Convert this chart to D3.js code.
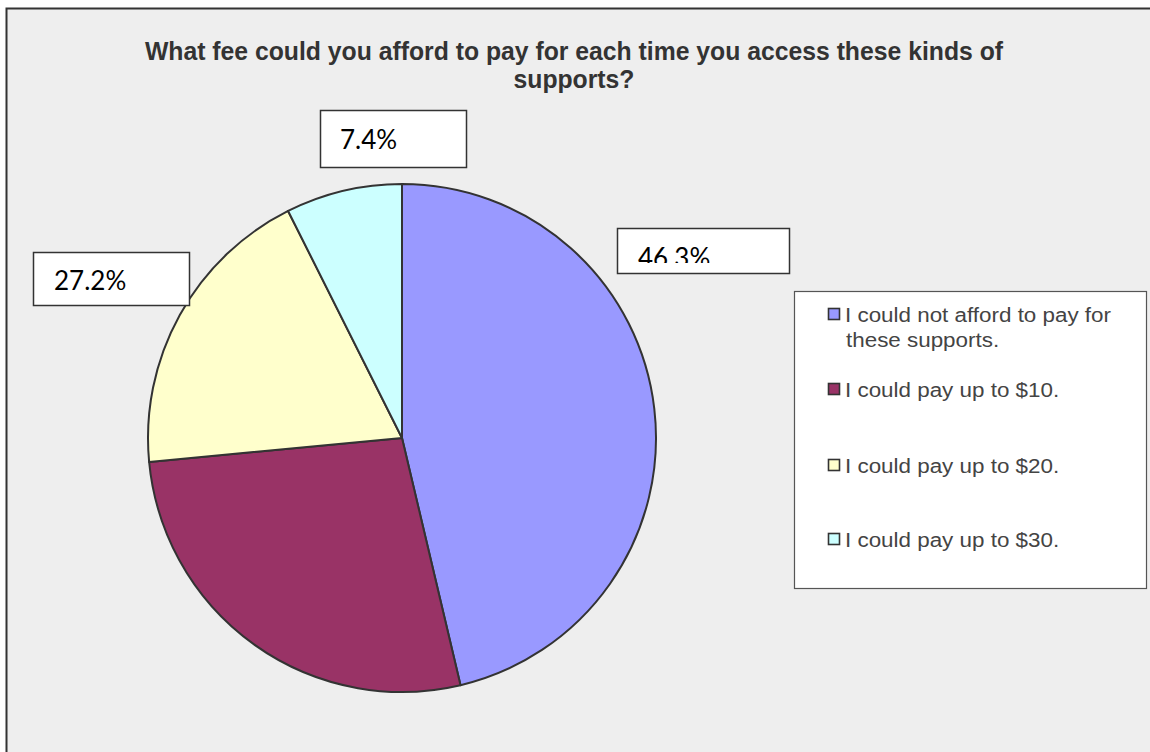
<!DOCTYPE html>
<html><head><meta charset="utf-8">
<script src="https://cdn.jsdelivr.net/npm/d3@7"></script>
<style>html,body{margin:0;padding:0;background:#fff;overflow:hidden}</style>
</head><body>
<script>
const categories = ["I could not afford to pay for these supports.", "I could pay up to $10.", "I could pay up to $20.", "I could pay up to $30."];
const values = [46.3, 27.2, 19.1, 7.4];
const colors = ["#9999FF", "#993366", "#FFFFCC", "#CCFFFF"];
const legendLines = [["I could not afford to pay for", "these supports."], ["I could pay up to $10."], ["I could pay up to $20."], ["I could pay up to $30."]];
const titleLines = ["What fee could you afford to pay for each time you access these kinds of", "supports?"];
const shownLabels = [0, 1, 3];

const W = 1150, H = 752;
const svg = d3.select("body").append("svg").attr("width", W).attr("height", H);

// frame
svg.append("rect").attr("x", 6.5).attr("y", 8.5).attr("width", W + 10).attr("height", H + 10)
  .attr("fill", "#EEEEEE").attr("stroke", "#333").attr("stroke-width", 2);

// title
const t1 = svg.append("text").attr("x", 574).attr("y", 60).attr("text-anchor", "middle")
  .attr("font-family", "Liberation Sans, Arial, sans-serif").attr("font-weight", "bold")
  .attr("font-size", 25).attr("fill", "#333").text(titleLines[0]);
const nat1 = t1.node().getComputedTextLength();
const ratio = 858 / nat1;
t1.attr("textLength", 858).attr("lengthAdjust", "spacingAndGlyphs");
const t2 = svg.append("text").attr("x", 574).attr("y", 88).attr("text-anchor", "middle")
  .attr("font-family", "Liberation Sans, Arial, sans-serif").attr("font-weight", "bold")
  .attr("font-size", 25).attr("fill", "#333").text(titleLines[1]);
const nat2 = t2.node().getComputedTextLength();
t2.attr("textLength", nat2 * ratio).attr("lengthAdjust", "spacingAndGlyphs");

// pie
const cx = 402, cy = 438, r = 254;
const pie = d3.pie().sort(null).value(d => d)(values);
const arc = d3.arc().innerRadius(0).outerRadius(r);
const g = svg.append("g").attr("transform", `translate(${cx},${cy})`);
g.selectAll("path").data(pie).join("path")
  .attr("d", arc).attr("fill", (d, i) => colors[i])
  .attr("stroke", "#333").attr("stroke-width", 2).attr("stroke-linejoin", "round");

// data labels (boxes)
const boxes = {
  0: {x: 617.5, y: 228.5, w: 172, h: 45, tx: 638, ty: 267, clip: 263},
  1: {x: 33.5, y: 252.5, w: 156, h: 53, tx: 54, ty: 290},
  3: {x: 320.5, y: 110.5, w: 146, h: 57, tx: 340, ty: 149}
};
const defs = svg.append("defs");
shownLabels.forEach(i => {
  const b = boxes[i];
  svg.append("rect").attr("x", b.x).attr("y", b.y).attr("width", b.w).attr("height", b.h)
    .attr("fill", "#fff").attr("stroke", "#333").attr("stroke-width", 1.5);
  const txt = svg.append("text").attr("x", b.tx).attr("y", b.ty)
    .attr("font-family", "Lato, 'Open Sans', sans-serif").attr("font-size", 26).attr("fill", "#000")
    .text(d3.format(".1f")(values[i]) + "%");
  if (b.clip) {
    defs.append("clipPath").attr("id", "clip" + i).append("rect")
      .attr("x", b.x).attr("y", b.y).attr("width", b.w).attr("height", b.clip - b.y);
    txt.attr("clip-path", `url(#clip${i})`);
  }
});

// legend
svg.append("rect").attr("x", 794.5).attr("y", 291.5).attr("width", 352).attr("height", 297)
  .attr("fill", "#fff").attr("stroke", "#555").attr("stroke-width", 1.2);
const legY = [322, 397, 473, 547];
let legRatio = null;
categories.forEach((c, i) => {
  svg.append("rect").attr("x", 828.5).attr("y", legY[i] - 13.5).attr("width", 11).attr("height", 11)
    .attr("fill", colors[i]).attr("stroke", "#333").attr("stroke-width", 1.6);
  legendLines[i].forEach((ln, j) => {
    const tx = svg.append("text").attr("x", j === 0 ? 845 : 846).attr("y", legY[i] + j * 25)
      .attr("font-family", "Liberation Sans, Arial, sans-serif").attr("font-size", 20).attr("fill", "#444")
      .text(ln);
    const nat = tx.node().getComputedTextLength();
    if (legRatio === null) legRatio = 266 / nat;
    tx.attr("textLength", nat * legRatio).attr("lengthAdjust", "spacingAndGlyphs");
  });
});
</script>
</body></html>
